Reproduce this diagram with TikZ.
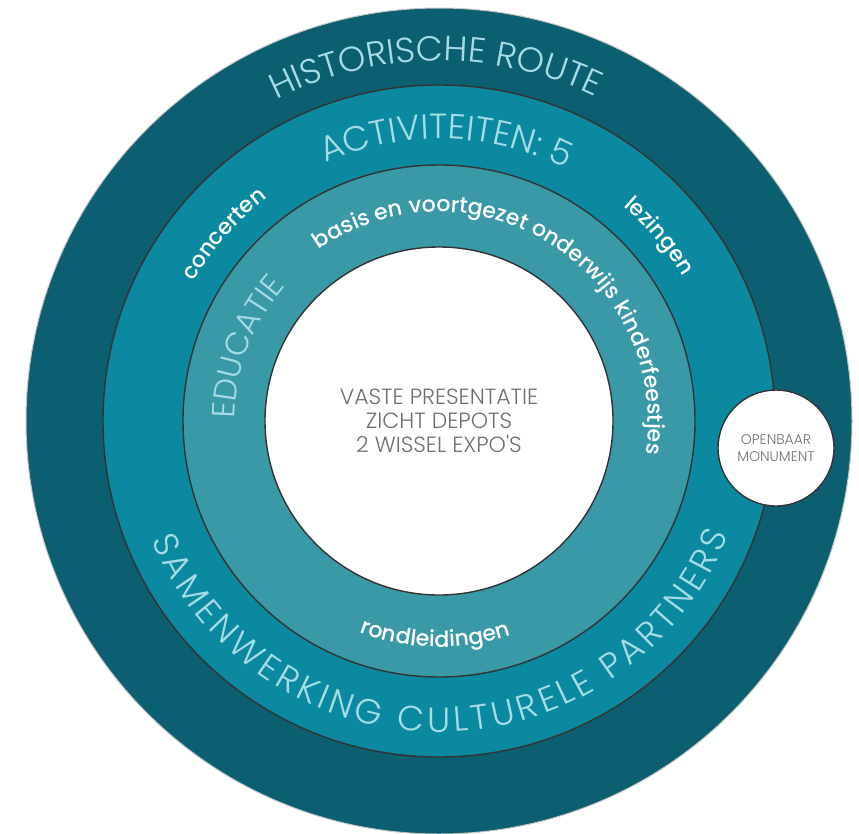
\documentclass[tikz,border=0pt]{standalone}
\usepackage{fontspec}
\setmainfont{Poppins}
\newfontfamily\lightface{Poppins Light}
\newfontfamily\mediumface{Poppins Medium}
\usetikzlibrary{decorations.text}

\definecolor{routeteal}{HTML}{0C5F70}
\definecolor{actteal}{HTML}{0A89A0}
\definecolor{eduteal}{HTML}{3A99A7}
\definecolor{edge}{HTML}{333333}
\definecolor{capcyan}{HTML}{A6DCE6}
\definecolor{midgray}{HTML}{707070}

\newcommand{\bandcaps}{\lightface\fontsize{35}{40}\selectfont\color{capcyan}}
\newcommand{\educaps}{\lightface\fontsize{32}{36}\selectfont\color{capcyan}}
\newcommand{\bandwords}{\mediumface\fontsize{22}{26}\selectfont\color{white}}
\newcommand{\corecaps}{\lightface\fontsize{22}{24}\selectfont}
\newcommand{\tagcaps}{\lightface\fontsize{14}{17}\selectfont}

\begin{document}
\begin{tikzpicture}[x=1pt, y=1pt,
    ring/.style={circle, inner sep=0pt, draw=edge, line width=1.4pt},
    arctext/.style={decorate, decoration={text along path, text align=center, text={#1}}},
    filltext/.style={decorate, decoration={text along path, text align={fit to path}, text={#1}}}]
  \useasboundingbox (0,0) rectangle (859,-833);
  \coordinate (c) at (439,-421);

  % rings, outside in
  \node[ring, fill=routeteal, draw=gray!45, line width=1pt, minimum size=826pt] (route) at (c) {};
  \node[ring, fill=actteal, minimum size=672pt] (act) at (c) {};
  \node[ring, fill=eduteal, minimum size=512pt] (edu) at (c) {};
  \node[ring, fill=white, minimum size=348pt, align=center, text=midgray, font=\corecaps] (core) at (c)
    {VASTE PRESENTATIE\\ZICHT DEPOTS\\2 WISSEL EXPO'S};

  % side circle
  \node[ring, fill=white, minimum size=116pt, align=center, text=midgray, font=\tagcaps] (monument) at (776,-448)
    {OPENBAAR\\MONUMENT};

  % titles on the rings
  \path[arctext={|\bandcaps|HISTORISCHE ROUTE}] (c) ++(160.5:360) arc[start angle=160.5, end angle=20.5, radius=360];
  \path[arctext={|\bandcaps|ACTIVITEITEN: 5}] (c) ++(158.5:282) arc[start angle=158.5, end angle=18.5, radius=282];
  \path[filltext={|\bandcaps|SAMENWERKING CULTURELE PARTNERS}] (c) ++(202.5:311) arc[start angle=202.5, end angle=338.5, radius=311];
  \path[arctext={|\educaps|EDUCATIE}] (c) ++(219:204) arc[start angle=219, end angle=99, radius=204];

  % activities
  \path[arctext={|\bandwords|concerten}] (c) ++(179:282) arc[start angle=179, end angle=99, radius=282];
  \path[arctext={|\bandwords|lezingen}] (c) ++(80:283) arc[start angle=80, end angle=0, radius=283];
  \path[arctext={|\bandwords|basis en voortgezet onderwijs kinderfeestjes}] (c) ++(148:209) arc[start angle=148, end angle=-32, radius=209];
  \path[arctext={|\bandwords|rondleidingen}] (c) ++(219:226) arc[start angle=219, end angle=319, radius=226];
\end{tikzpicture}
\end{document}
